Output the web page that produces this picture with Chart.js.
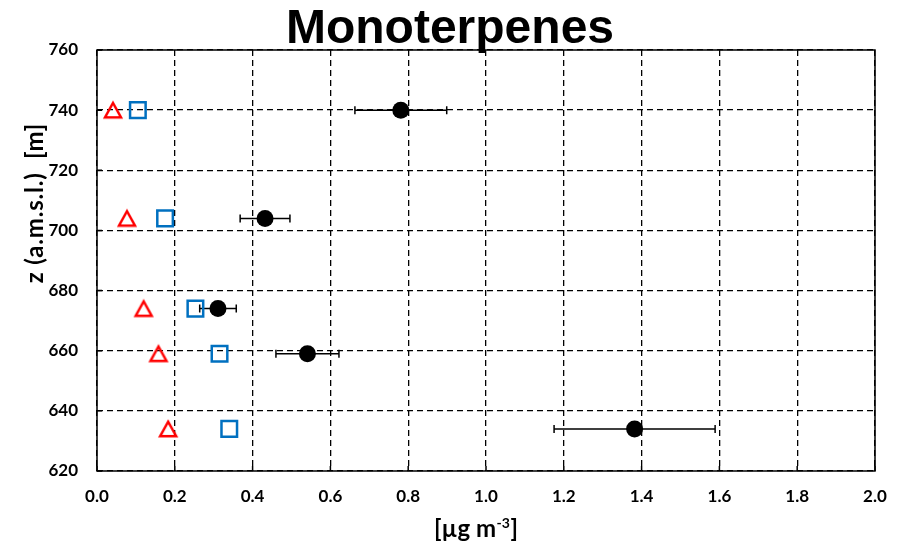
<!DOCTYPE html>
<html>
<head>
<meta charset="utf-8">
<script src="https://cdn.jsdelivr.net/npm/chart.js@4.4.1/dist/chart.umd.min.js"></script>
<style>
  html, body { margin: 0; padding: 0; background: #ffffff; }
  #wrap { width: 904px; height: 544px; position: relative; }
</style>
</head>
<body>
<div id="wrap"><canvas id="chart"></canvas></div>
<script>
// Sampling heights (m a.s.l.)
const heights = [740, 704, 674, 659, 634];
// Mean concentration with its +/- spread (µg m-3)
const meanConc = [0.781, 0.432, 0.311, 0.541, 1.382];
const meanSpread = [0.118, 0.064, 0.047, 0.081, 0.207];
// Two further profiles at the same heights
const profileB = [0.105, 0.175, 0.253, 0.315, 0.340];
const profileC = [0.041, 0.077, 0.120, 0.158, 0.183];

// Axis ticks
const xTickValues = [0, 0.2, 0.4, 0.6, 0.8, 1.0, 1.2, 1.4, 1.6, 1.8, 2.0];
const xTickLabels = ['0.0', '0.2', '0.4', '0.6', '0.8', '1.0', '1.2', '1.4', '1.6', '1.8', '2.0'];
const yTickValues = [620, 640, 660, 680, 700, 720, 740, 760];
const yTickLabels = ['620', '640', '660', '680', '700', '720', '740', '760'];

const titleText = 'Monoterpenes';
const yTitleText = 'z (a.m.s.l.)  [m]';
const xTitleParts = { before: '[\u00B5g m', sup: '-3', after: ']' };

const toPoints = (xs) => xs.map((x, i) => ({ x: x, y: heights[i] }));

// Open triangle marker, centred on its bounding box
function triangleMarker(color, w, h, lw) {
  const c = document.createElement('canvas');
  c.width = 28; c.height = 28;
  const g = c.getContext('2d');
  const cx = 14, cy = 14;
  g.beginPath();
  g.moveTo(cx, cy - h / 2);
  g.lineTo(cx + w / 2, cy + h / 2);
  g.lineTo(cx - w / 2, cy + h / 2);
  g.closePath();
  g.lineJoin = 'miter';
  g.lineWidth = lw;
  g.strokeStyle = color;
  g.stroke();
  return c;
}

// Horizontal error bars drawn beneath the markers
const errorBars = {
  id: 'errorBars',
  beforeDatasetsDraw(chart) {
    const { ctx, scales: { x, y } } = chart;
    ctx.save();
    ctx.strokeStyle = '#000';
    ctx.lineWidth = 1.5;
    meanConc.forEach((m, i) => {
      const py = y.getPixelForValue(heights[i]);
      const x0 = x.getPixelForValue(m - meanSpread[i]);
      const x1 = x.getPixelForValue(m + meanSpread[i]);
      ctx.beginPath();
      ctx.moveTo(x0, py); ctx.lineTo(x1, py);
      ctx.moveTo(x0, py - 4); ctx.lineTo(x0, py + 4);
      ctx.moveTo(x1, py - 4); ctx.lineTo(x1, py + 4);
      ctx.stroke();
    });
    ctx.restore();
  }
};

// Solid frame around the plot area with short inward tick marks
const plotFrame = {
  id: 'plotFrame',
  beforeDatasetsDraw(chart) {
    const { ctx, chartArea: a, scales: { x, y } } = chart;
    ctx.save();
    ctx.strokeStyle = '#000';
    ctx.lineWidth = 1.5;
    ctx.setLineDash([]);
    ctx.strokeRect(a.left, a.top, a.right - a.left, a.bottom - a.top);
    ctx.beginPath();
    xTickValues.forEach(v => {
      const px = x.getPixelForValue(v);
      ctx.moveTo(px, a.bottom); ctx.lineTo(px, a.bottom - 5);
    });
    yTickValues.forEach(v => {
      const py = y.getPixelForValue(v);
      ctx.moveTo(a.left, py); ctx.lineTo(a.left + 5, py);
    });
    ctx.stroke();
    ctx.restore();
  }
};

// Chart title and axis titles (the x title carries a superscript)
const chartTexts = {
  id: 'chartTexts',
  afterDraw(chart) {
    const { ctx } = chart;

    // main title
    ctx.save();
    ctx.fillStyle = '#000';
    ctx.font = "bold 48px 'Liberation Sans', Arial, sans-serif";
    ctx.textAlign = 'center';
    ctx.textBaseline = 'alphabetic';
    ctx.fillText(titleText, 450, 43);
    ctx.restore();

    // y title
    ctx.save();
    ctx.fillStyle = '#000';
    ctx.translate(43, 203);
    ctx.rotate(-Math.PI / 2);
    ctx.font = 'bold 24px Lato';
    if ('letterSpacing' in ctx) ctx.letterSpacing = '0.8px';
    ctx.textAlign = 'center';
    ctx.textBaseline = 'alphabetic';
    ctx.fillText(yTitleText, 0, 0);
    ctx.restore();

    // x title
    ctx.save();
    ctx.fillStyle = '#000';
    ctx.textBaseline = 'alphabetic';
    ctx.textAlign = 'left';
    const mainFont = 'bold 24px Lato';
    const supFont = 'bold 14px Lato';
    ctx.font = mainFont;
    const w1 = ctx.measureText(xTitleParts.before).width;
    const w3 = ctx.measureText(xTitleParts.after).width;
    ctx.font = supFont;
    const w2 = ctx.measureText(xTitleParts.sup).width + 1;
    let sx = 476 - (w1 + w2 + w3) / 2;
    const base = 537;
    ctx.font = mainFont;
    ctx.fillText(xTitleParts.before, sx, base);
    sx += w1;
    ctx.font = supFont;
    ctx.fillText(xTitleParts.sup, sx + 0.5, base - 9);
    sx += w2;
    ctx.font = mainFont;
    ctx.fillText(xTitleParts.after, sx, base);
    ctx.restore();
  }
};

function build() {
  const tickFont = { family: 'Lato', weight: 'bold', size: 17 };
  new Chart(document.getElementById('chart'), {
    type: 'scatter',
    data: {
      datasets: [
        {
          label: 'Mean',
          data: toPoints(meanConc),
          order: 0,
          pointStyle: 'circle',
          pointRadius: 8.5,
          pointHoverRadius: 8.5,
          backgroundColor: '#000',
          borderColor: '#000',
          borderWidth: 0
        },
        {
          label: 'Profile B',
          data: toPoints(profileB),
          order: 1,
          pointStyle: 'rect',
          pointRadius: 11,
          pointHoverRadius: 11,
          backgroundColor: 'rgba(0,0,0,0)',
          borderColor: '#0070C0',
          borderWidth: 2.5
        },
        {
          label: 'Profile C',
          data: toPoints(profileC),
          order: 2,
          pointStyle: triangleMarker('#FF0000', 16, 14.5, 2.5),
          pointRadius: 10,
          backgroundColor: 'rgba(0,0,0,0)',
          borderColor: '#FF0000',
          borderWidth: 2.5
        }
      ]
    },
    options: {
      responsive: true,
      maintainAspectRatio: false,
      animation: false,
      layout: { padding: { left: 0, right: 29, top: 50, bottom: 0 } },
      plugins: {
        legend: { display: false },
        tooltip: { enabled: false },
        title: { display: false }
      },
      scales: {
        x: {
          type: 'linear',
          min: 0, max: 2,
          afterBuildTicks: s => { s.ticks = xTickValues.map(v => ({ value: v })); },
          afterFit: s => { s.height = 73; },
          ticks: {
            color: '#000',
            font: tickFont,
            padding: 15,
            maxRotation: 0,
            callback: (v, i) => xTickLabels[i]
          },
          grid: { color: '#000', lineWidth: 1.3, drawTicks: false },
          border: { display: false, dash: [6, 4] }
        },
        y: {
          type: 'linear',
          min: 620, max: 760,
          afterBuildTicks: s => { s.ticks = yTickValues.map(v => ({ value: v })); },
          afterFit: s => { s.width = 97; },
          ticks: {
            color: '#000',
            font: tickFont,
            padding: 19,
            callback: (v, i) => yTickLabels[i]
          },
          grid: { color: '#000', lineWidth: 1.3, drawTicks: false },
          border: { display: false, dash: [6, 4] }
        }
      }
    },
    plugins: [errorBars, plotFrame, chartTexts]
  });
}

const fontLoads = [
  document.fonts.load('bold 17px Lato'),
  document.fonts.load('bold 48px "Liberation Sans"')
];
Promise.all(fontLoads).then(build, build);
</script>
</body>
</html>
